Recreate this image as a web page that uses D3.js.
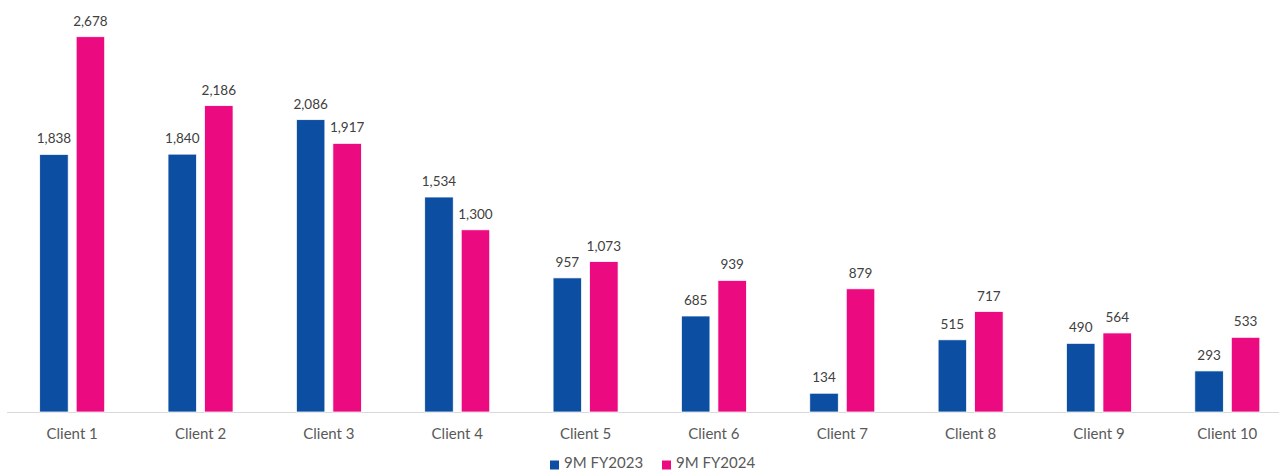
<!DOCTYPE html>
<html>
<head>
<meta charset="utf-8">
<script src="https://cdn.jsdelivr.net/npm/d3@7"></script>
<style>
    body { margin: 0; background: #fff; }
    svg { display: block; font-family: Lato, "Open Sans", sans-serif; }
</style>
</head>
<body>
<svg id="chart"></svg>
<script>
var categories = ["Client 1", "Client 2", "Client 3", "Client 4", "Client 5",
    "Client 6", "Client 7", "Client 8", "Client 9", "Client 10"];
var seriesNames = ["9M FY2023", "9M FY2024"];
var fy2023 = [1838, 1840, 2086, 1534, 957, 685, 134, 515, 490, 293];
var fy2024 = [2678, 2186, 1917, 1300, 1073, 939, 879, 717, 564, 533];
var colors = ["#0B4EA2", "#EC0A80"];

(function () {
    "use strict";
    var width = 1279, height = 472, baseY = 412, svg, x0, x1, y, groups, fmt, legend;

    svg = d3.select("#chart").attr("width", width).attr("height", height);

    x0 = d3.scaleBand().domain(categories).range([8, 1291.5])
        .paddingInner(0.4935).paddingOuter(0.2468);
    x1 = d3.scaleBand().domain(seriesNames).range([0, x0.bandwidth()])
        .paddingInner(0.219);
    y = d3.scaleLinear().domain([0, 2678]).range([baseY, 36.7]);
    fmt = d3.format(",");

    var rows = categories.map(function (c, i) {
        return { cat: c, vals: [fy2023[i], fy2024[i]] };
    });

    // baseline
    svg.append("line")
        .attr("x1", 7).attr("x2", width)
        .attr("y1", baseY + 0.5).attr("y2", baseY + 0.5)
        .attr("stroke", "#d9d9d9").attr("stroke-width", 1);

    groups = svg.selectAll("g.cat")
        .data(rows)
        .enter().append("g")
        .attr("class", "cat")
        .attr("transform", function (d) { return "translate(" + x0(d.cat) + ",0)"; });

    groups.selectAll("rect")
        .data(function (d) { return d.vals.map(function (v, k) { return { s: seriesNames[k], v: v, k: k }; }); })
        .enter().append("rect")
        .attr("x", function (d) { return x1(d.s); })
        .attr("width", x1.bandwidth())
        .attr("y", function (d) { return y(d.v); })
        .attr("height", function (d) { return baseY - y(d.v); })
        .attr("fill", function (d) { return colors[d.k]; })
        .attr("stroke", "#fff").attr("stroke-width", 0.75);

    groups.selectAll("text.val")
        .data(function (d) { return d.vals.map(function (v, k) { return { s: seriesNames[k], v: v }; }); })
        .enter().append("text")
        .attr("class", "val")
        .attr("x", function (d) { return x1(d.s) + x1.bandwidth() / 2; })
        .attr("y", function (d) { return y(d.v) - 11; })
        .attr("text-anchor", "middle")
        .attr("font-size", "13.5px")
        .attr("fill", "#404040")
        .text(function (d) { return fmt(d.v); });

    groups.append("text")
        .attr("x", x0.bandwidth() / 2)
        .attr("y", 439)
        .attr("text-anchor", "middle")
        .attr("font-size", "15px")
        .attr("fill", "#595959")
        .text(function (d) { return d.cat; });

    // legend (kept just inside the bottom edge)
    var legendX = [550, 662];
    legend = svg.selectAll("g.legend")
        .data(seriesNames)
        .enter().append("g")
        .attr("class", "legend")
        .attr("transform", function (d, i) { return "translate(" + legendX[i] + ",0)"; });
    legend.append("rect")
        .attr("x", 0).attr("y", 460.5)
        .attr("width", 9).attr("height", 9)
        .attr("fill", function (d, i) { return colors[i]; });
    legend.append("text")
        .attr("x", 14).attr("y", 468)
        .attr("font-size", "15px")
        .attr("fill", "#595959")
        .text(function (d) { return d; });
}());
</script>
</body>
</html>
